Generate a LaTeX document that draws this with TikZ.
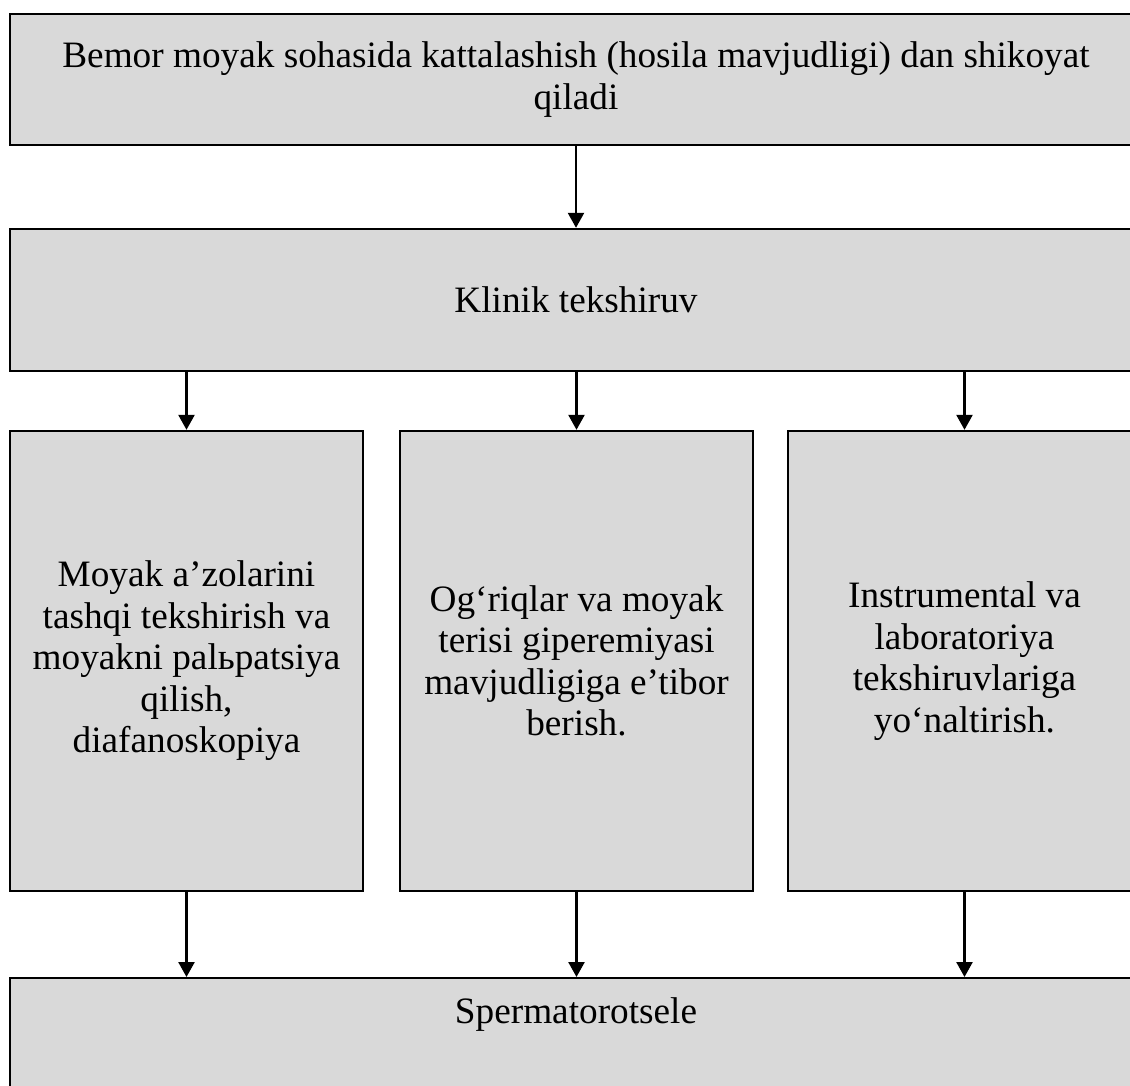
\documentclass[tikz,border=0pt]{standalone}
\usepackage{fontspec}
\setmainfont{Liberation Serif}
\usetikzlibrary{arrows.meta}

\tikzset{
    block/.style={draw, line width=1.4pt, fill={rgb,255:red,217;green,217;blue,217}, inner sep=0pt, align=center, font=\fontsize{21.2}{23.6}\selectfont},
    arr/.style={line width=1.4pt, -{Triangle[length=0.3cm, width=0.32cm]}}
}

\begin{document}
\begin{tikzpicture}[x=0.02cm, y=-0.02cm]
    \useasboundingbox (0,0) rectangle (1130,1086);
    \clip (0,0) rectangle (1130,1086);

    \node [block, minimum width=22.64cm, minimum height=2.62cm] (shikoyat) at (576,79.5) {Bemor moyak sohasida kattalashish (hosila mavjudligi) dan shikoyat\\qiladi};
    \node [block, minimum width=22.64cm, minimum height=2.84cm] (klinik) at (576,300) {Klinik tekshiruv};

    \node [block, minimum width=7.06cm, minimum height=9.2cm] (tashqi) at (186.5,661) {Moyak a’zolarini\\tashqi tekshirish va\\moyakni palьpatsiya\\qilish,\\diafanoskopiya};
    \node [block, minimum width=7.06cm, minimum height=9.2cm] (ogriq) at (576.5,661) {Og‘riqlar va moyak\\terisi giperemiyasi\\mavjudligiga e’tibor\\berish.};
    \node [block, minimum width=7.06cm, minimum height=9.2cm] (instr) at (964.5,661) {Instrumental va\\laboratoriya\\tekshiruvlariga\\yo‘naltirish.};

    \node [block, anchor=north, minimum width=22.64cm, text height=0.9cm, text depth=4cm] (sperm) at (576,977) {Spermatorotsele};

    \draw [arr] (shikoyat) -- (klinik);
    \foreach \b in {tashqi, ogriq, instr} {
        \draw [arr] (klinik.south -| \b) -- (\b.north);
        \draw [arr] (\b.south) -- (\b.south |- sperm.north);
    }
\end{tikzpicture}
\end{document}
